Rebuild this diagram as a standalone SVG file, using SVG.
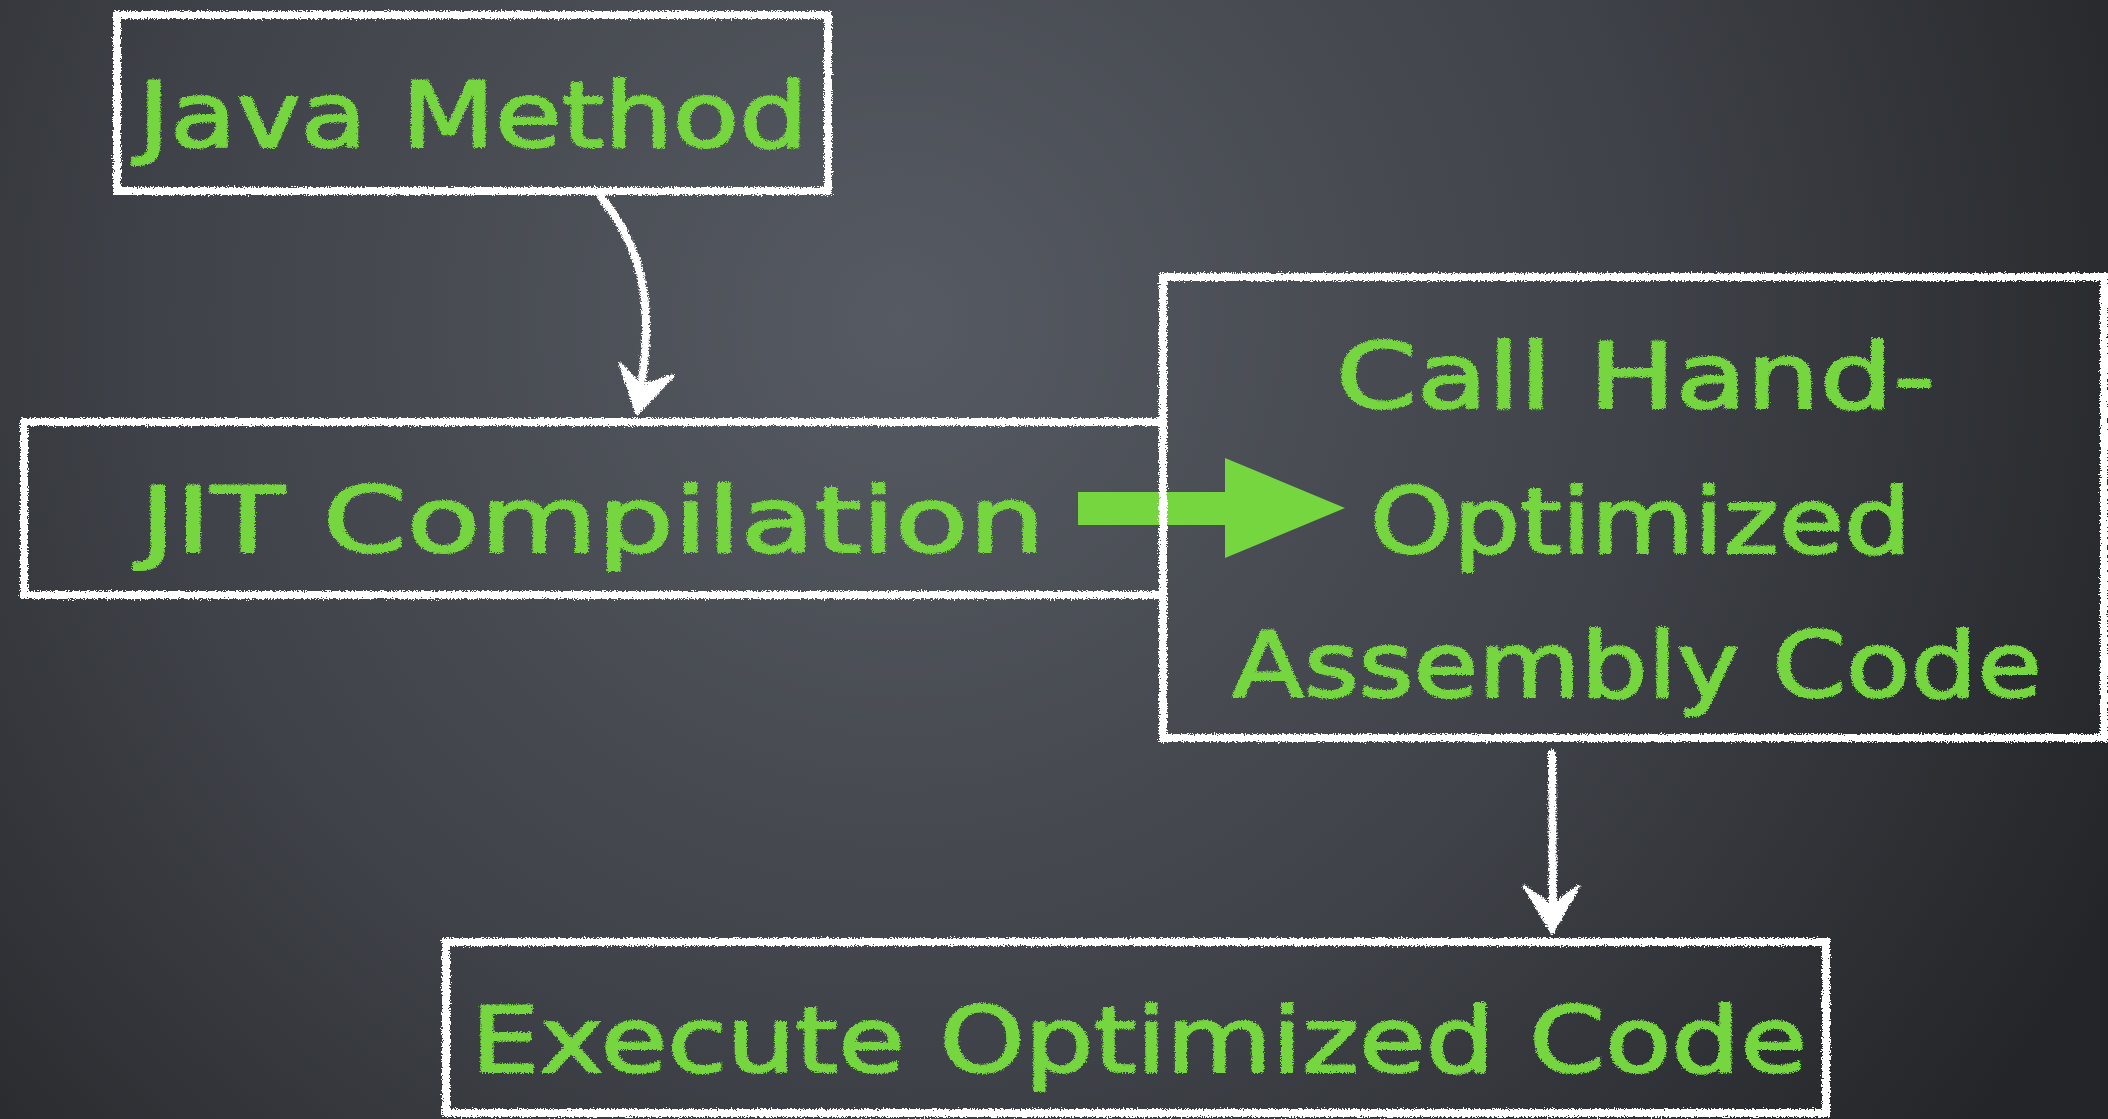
<svg xmlns="http://www.w3.org/2000/svg" width="2108" height="1119" viewBox="0 0 2108 1119">
  <defs>
    <radialGradient id="board" cx="900" cy="320" r="1350" gradientUnits="userSpaceOnUse">
      <stop offset="0" stop-color="#565a62"/>
      <stop offset="0.55" stop-color="#3f4248"/>
      <stop offset="1" stop-color="#232528"/>
    </radialGradient>
    <!-- rough chalk edge for strokes; region covers the whole board so thin lines are not clipped -->
    <filter id="chalk" filterUnits="userSpaceOnUse" x="0" y="0" width="2108" height="1119">
      <feTurbulence type="fractalNoise" baseFrequency="0.7" numOctaves="2" seed="3" result="n"/>
      <feDisplacementMap in="SourceGraphic" in2="n" scale="6" xChannelSelector="R" yChannelSelector="G"/>
    </filter>
    <filter id="chalkText" filterUnits="userSpaceOnUse" x="0" y="0" width="2108" height="1119">
      <feTurbulence type="fractalNoise" baseFrequency="0.8" numOctaves="2" seed="7" result="n"/>
      <feDisplacementMap in="SourceGraphic" in2="n" scale="5" xChannelSelector="R" yChannelSelector="G"/>
    </filter>
  </defs>
  <style>
    .box { fill: none; stroke: #ffffff; stroke-width: 8; filter: url(#chalk); }
    .label { fill: #75d640; stroke: #75d640; stroke-width: 2; stroke-linejoin: round; font-family: "DejaVu Sans", "Open Sans", sans-serif; font-size: 90px; filter: url(#chalkText); }
    .wire { fill: none; stroke: #ffffff; stroke-width: 8; stroke-linecap: round; filter: url(#chalk); }
    .head { fill: #ffffff; stroke: #ffffff; stroke-width: 3; stroke-linejoin: round; filter: url(#chalk); }
    .big { fill: #75d640; }
  </style>

  <rect x="0" y="0" width="2108" height="1119" fill="url(#board)"/>

  <g id="connectors">
    <!-- Java Method to JIT Compilation -->
    <path class="wire" d="M601,197 C640,245 656,300 640,392"/>
    <polygon class="head" points="620,363 641,386 673,376 637,414"/>
    <!-- JIT Compilation to hand-optimized code -->
    <polygon class="big" points="1078,492 1225,492 1225,458 1345,508 1225,558 1225,525 1078,525"/>
    <!-- hand-optimized code to execution -->
    <path class="wire" d="M1552,754 L1553,905"/>
    <polygon class="head" points="1524,886 1552,906 1579,886 1552,933"/>
  </g>

  <g id="node-java-method">
    <rect class="box" x="117" y="15" width="711" height="176"/>
    <text class="label" x="138" y="147" textLength="670" lengthAdjust="spacingAndGlyphs">Java Method</text>
  </g>

  <g id="node-jit-compilation">
    <rect class="box" x="24" y="422" width="1139" height="173"/>
    <text class="label" x="140" y="552" textLength="905" lengthAdjust="spacingAndGlyphs">JIT Compilation</text>
  </g>

  <g id="node-hand-optimized">
    <rect class="box" x="1163" y="277" width="941" height="461"/>
    <text class="label" x="1336" y="408" textLength="599" lengthAdjust="spacingAndGlyphs">Call Hand-</text>
    <text class="label" x="1370" y="553" textLength="541" lengthAdjust="spacingAndGlyphs">Optimized</text>
    <text class="label" x="1232" y="697" textLength="810" lengthAdjust="spacingAndGlyphs">Assembly Code</text>
  </g>

  <g id="node-execute">
    <rect class="box" x="446" y="942" width="1380" height="171"/>
    <text class="label" x="471" y="1072" textLength="1336" lengthAdjust="spacingAndGlyphs">Execute Optimized Code</text>
  </g>
</svg>
